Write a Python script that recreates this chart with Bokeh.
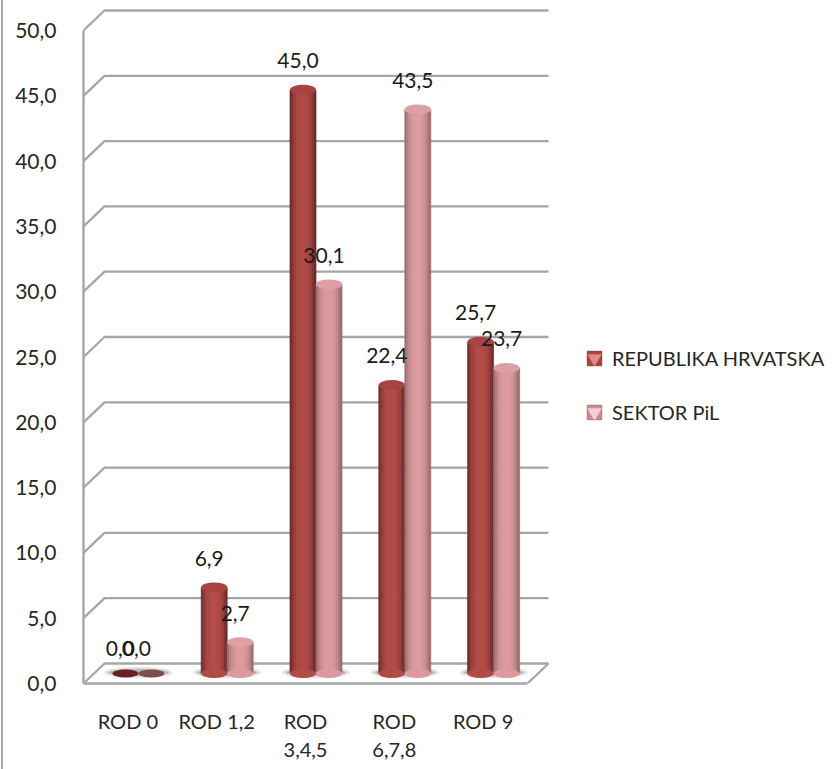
from bokeh.plotting import figure
from bokeh.embed import file_html
from bokeh.resources import INLINE
from bokeh.core.properties import value
from bokeh.models import FixedTicker, Legend, LegendItem, Range1d

categories = ["ROD 0", "ROD 1,2", "ROD\n3,4,5", "ROD\n6,7,8", "ROD 9"]
republika = [0.0, 6.9, 45.0, 22.4, 25.7]
sektor = [0.0, 2.7, 30.1, 43.5, 23.7]
republika_labels = ["0,0", "6,9", "45,0", "22,4", "25,7"]
sektor_labels = ["0,0", "2,7", "30,1", "43,5", "23,7"]
y_ticks = [0, 5, 10, 15, 20, 25, 30, 35, 40, 45, 50]
y_tick_labels = ["0,0", "5,0", "10,0", "15,0", "20,0", "25,0", "30,0", "35,0", "40,0", "45,0", "50,0"]
series_names = ["REPUBLIKA HRVATSKA", "SEKTOR PiL"]

W, H = 831, 769
FL, FB = 80, 86          # frame left / space under frame
PX_CAT = 88.8            # px per category
PX_VAL = 13.06           # px per value unit
FONT = value("Lato")
GRID = "#a6a6a6"
NAN = float("nan")

def cx(px):  # px -> category units
    return px / PX_CAT
def vy(px):  # px -> value units
    return px / PX_VAL

p = figure(width=W, height=H, output_backend="svg", toolbar_location=None,
           x_range=Range1d(0, (W - FL) / PX_CAT),
           y_range=Range1d(0, (H - FB) / PX_VAL),
           min_border_left=FL, min_border_right=0, min_border_top=0, min_border_bottom=FB,
           outline_line_color=None, background_fill_color="white")
p.styles = {"margin-left": "1px", "border-left": "2px solid #a6a6a6"}
p.grid.visible = False

# --- axes
ya = p.yaxis[0]
ya.ticker = FixedTicker(ticks=y_ticks)
ya.major_label_overrides = dict(zip(y_ticks, y_tick_labels))
ya.bounds = (0, 50)
ya.axis_line_color = GRID
ya.axis_line_width = 2.4
ya.major_tick_line_color = None
ya.minor_tick_line_color = None
ya.major_label_standoff = 21
ya.major_label_text_font = "Lato"
ya.major_label_text_font_size = "21px"
ya.major_label_text_color = "#262626"

xa = p.xaxis[0]
tick_pos = [i + 0.5 for i in range(len(categories))]
xa.ticker = FixedTicker(ticks=tick_pos)
xa.major_label_overrides = dict(zip(tick_pos, categories))
xa.bounds = (0, len(categories))
xa.axis_line_color = GRID
xa.axis_line_width = 2.6
xa.major_tick_line_color = None
xa.minor_tick_line_color = None
xa.major_label_standoff = 19
xa.major_label_text_font = "Lato"
xa.major_label_text_font_size = "20px"
xa.major_label_text_color = "#262626"

# --- 3-D walls
DX, DY = cx(21), vy(20)
n = len(categories)
xs = [[0, DX, n + DX] for _ in y_ticks]
ys = [[t, t + DY, t + DY] for t in y_ticks]
p.multi_line(xs, ys, line_color=GRID, line_width=2.3)
p.line([n, n + DX], [0, DY], line_color=GRID, line_width=2.3)

# --- cylinders
BAR_W = cx(26)
BASE = vy(10)
TOP_UP = vy(6)
N_STRIP = 13
BAR_OFF = [cx(10.5) - BAR_W / 2, cx(10.5) + BAR_W / 2]

def shade(t, edge, mid):
    f = 1 - abs(2 * t - 1) ** 2.6
    c = [round(edge[k] + (mid[k] - edge[k]) * f) for k in range(3)]
    return "#%02x%02x%02x" % tuple(c)

series = [
    (republika, (96, 38, 36), (178, 74, 72), "#a84341", "#6b2020", BAR_OFF[0]),
    (sektor, (140, 100, 102), (221, 154, 158), "#dca0a4", "#7d4c4c", BAR_OFF[1]),
]

# floor shadows
centers_pair = [i + 0.5 + cx(10.5) for i in range(n)]
p.ellipse(centers_pair, [BASE + vy(1)] * n, width=cx(68), height=vy(11),
          fill_color="#9a9a9a", fill_alpha=0.3, line_color=None)
p.ellipse(centers_pair, [BASE + vy(1)] * n, width=cx(60), height=vy(7),
          fill_color="#808080", fill_alpha=0.45, line_color=None)

for vals, edge, mid, top_col, flat_col, off in series:
    sx, sw, stop, sbot, scol = [], [], [], [], []
    centers = [i + 0.5 + off for i in range(n)]
    for c, v in zip(centers, vals):
        if v <= 0:
            continue
        for s in range(N_STRIP):
            t = (s + 0.5) / N_STRIP
            sx.append(c - BAR_W / 2 + t * BAR_W)
            sw.append(BAR_W / N_STRIP)
            stop.append(v + TOP_UP)
            sbot.append(BASE)
            scol.append(shade(t, edge, mid))
    p.vbar(x=sx, width=sw, top=stop, bottom=sbot, fill_color=scol, line_color=scol, line_width=0.7)
    live = [(c, v) for c, v in zip(centers, vals) if v > 0]
    p.ellipse([c for c, v in live], [BASE] * len(live), width=BAR_W, height=vy(9),
              fill_color=shade(0.5, edge, mid), line_color=None)
    p.ellipse([c for c, v in live], [v + TOP_UP for c, v in live], width=BAR_W, height=vy(10),
              fill_color=top_col, line_color=None)
    flat = [c for c, v in zip(centers, vals) if v <= 0]
    p.ellipse(flat, [BASE] * len(flat), width=BAR_W, height=vy(8), fill_color=flat_col, line_color=None)

# --- data labels
LBL_UP = vy(35)
LBL_X = [cx(10.5 - 13 - 5), cx(10.5 + 13 - 5)]
for vals, labels, dx, dx0 in [(republika, republika_labels, LBL_X[0], 0), (sektor, sektor_labels, LBL_X[1], -cx(10))]:
    px_ = [i + 0.5 + dx + (dx0 if v <= 0 else 0) for i, v in enumerate(vals)]
    p.text(px_, [v + LBL_UP for v in vals], text=labels, text_align="center", text_baseline="middle",
           text_font=FONT, text_font_size="21px", text_color="#1a1a1a")

# --- legend
r1a = p.scatter([NAN], [NAN], marker="square", fill_color="#a84341", line_color="#8a3a38")
r1b = p.scatter([NAN], [NAN], marker="inverted_triangle", fill_color="#dd8a88", line_color=None)
r2a = p.scatter([NAN], [NAN], marker="square", fill_color="#c98c90", line_color="#a87679")
r2b = p.scatter([NAN], [NAN], marker="inverted_triangle", fill_color="#f2cfd2", line_color=None)
legend = Legend(items=[LegendItem(label=series_names[0], renderers=[r1a, r1b]),
                       LegendItem(label=series_names[1], renderers=[r2a, r2b])],
                location=(493, 253), orientation="vertical",
                border_line_color=None, background_fill_alpha=0, padding=0, margin=0,
                spacing=18, glyph_width=36, glyph_height=36, label_standoff=0,
                label_text_font="Lato", label_text_font_size="20px", label_text_color="#262626",
                label_height=36)
p.add_layout(legend, "center")

open("out.html", "w").write(file_html(p, INLINE))
